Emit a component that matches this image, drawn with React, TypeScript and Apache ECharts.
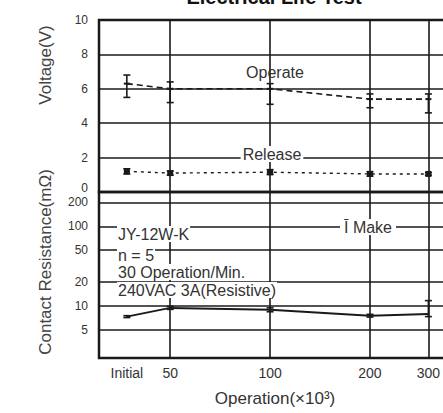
import React, { useEffect, useRef } from "react";
import * as echarts from "echarts";

// Operations (x 10^3); "Initial" is plotted just left of 50 on the log scale
const xLabels = ["Initial", "50", "100", "200", "300"];
const xPositions = [37, 50, 100, 200, 300];
const xGridValues = [50, 100, 200, 300];

// Voltage (V)
const operateMean = [6.3, 6.0, 6.0, 5.4, 5.4];
const operateMax = [6.8, 6.4, 6.3, 5.7, 5.7];
const operateMin = [5.5, 5.2, 5.1, 4.9, 4.6];
const releaseMean = [1.2, 1.1, 1.15, 1.05, 1.05];
const releaseMax = [1.35, 1.22, 1.3, 1.18, 1.13];
const releaseMin = [1.05, 0.98, 1.02, 0.92, 0.97];
const voltageTicks = [0, 2, 4, 6, 8, 10];

// Contact resistance (mΩ)
const makeMean = [7.3, 9.4, 8.9, 7.5, 7.9];
const makeMax = [7.5, 9.8, 9.4, 7.8, 11.6];
const makeMin = [7.1, 9.0, 8.4, 7.2, 7.3];
const resistanceTicks = [5, 10, 20, 50, 100, 200];

const noteLines = ["JY-12W-K", "n = 5", "30 Operation/Min.", "240VAC 3A(Resistive)"];

const lg = (v: number) => Math.log10(v);
const INK = "#1a1a1a";
const FONT = "Liberation Sans, Arial, sans-serif";

function errorBar(markerKind: "bar" | "square" | "none") {
  return (params: any, api: any) => {
    const x = api.value(0);
    const pLo = api.coord([x, api.value(1)]);
    const pHi = api.coord([x, api.value(2)]);
    const pMid = api.coord([x, api.value(3)]);
    const w = 3.5;
    const children: any[] = [
      { type: "line", shape: { x1: pLo[0], y1: pLo[1], x2: pHi[0], y2: pHi[1] }, style: { stroke: INK, lineWidth: 1.6 } },
      { type: "line", shape: { x1: pLo[0] - w, y1: pLo[1], x2: pLo[0] + w, y2: pLo[1] }, style: { stroke: INK, lineWidth: 1.6 } },
      { type: "line", shape: { x1: pHi[0] - w, y1: pHi[1], x2: pHi[0] + w, y2: pHi[1] }, style: { stroke: INK, lineWidth: 1.6 } },
    ];
    if (markerKind === "square") {
      children.push({ type: "rect", shape: { x: pMid[0] - 3, y: pMid[1] - 3, width: 6, height: 6 }, style: { fill: INK } });
    } else if (markerKind === "bar") {
      children.push({ type: "line", shape: { x1: pMid[0] - 3, y1: pMid[1], x2: pMid[0] + 3, y2: pMid[1] }, style: { stroke: INK, lineWidth: 2 } });
    }
    return { type: "group", children };
  };
}

export default function App() {
  const ref = useRef<HTMLDivElement>(null);
  useEffect(() => {
    if (!ref.current) return;
    const chart = echarts.init(ref.current, null, { renderer: "svg" });
    const xl = xPositions.map(lg);
    const labelFor = (v: number) => {
      let best = 0;
      xl.forEach((p, i) => {
        if (Math.abs(p - v) < Math.abs(xl[best] - v)) best = i;
      });
      return xLabels[best];
    };
    const xAxisBase = {
      type: "value",
      min: lg(30.5),
      max: lg(500),
      axisLine: { show: false },
      axisTick: { show: false, customValues: xGridValues.map(lg) },
      splitLine: { show: true, lineStyle: { color: INK, width: 1.6 } },
    };
    const toPairs = (ys: number[], f = (v: number) => v) => xl.map((x, i) => [x, f(ys[i])]);
    const toBars = (lo: number[], hi: number[], mid: number[], f = (v: number) => v) =>
      xl.map((x, i) => [x, f(lo[i]), f(hi[i]), f(mid[i])]);

    const textEl = (text: string, x: number, y: number, extra: any = {}) => ({
      type: "text",
      x,
      y,
      z: 100,
      style: { text, fill: "#333", font: `16px ${FONT}`, textAlign: "left", textVerticalAlign: "middle", ...extra },
    });
    const tickLabel = { color: "#333", fontSize: 12, fontFamily: FONT, margin: 11 };
    const vMin = voltageTicks[0];
    const vMax = voltageTicks[voltageTicks.length - 1];

    chart.setOption({
      animation: false,
      backgroundColor: "#fff",
      grid: [
        { left: 99, top: 20, width: 403, height: 172, show: true, borderColor: INK, borderWidth: 2.5, containLabel: false, outerBoundsMode: "none" },
        { left: 99, top: 192, width: 403, height: 166, show: true, borderColor: INK, borderWidth: 2.5, containLabel: false, outerBoundsMode: "none" },
      ],
      xAxis: [
        { ...xAxisBase, gridIndex: 0, axisLabel: { show: false } },
        {
          ...xAxisBase,
          gridIndex: 1,
          axisLabel: {
            show: true,
            customValues: xl,
            formatter: (v: number) => labelFor(v),
            color: "#333",
            fontSize: 14,
            fontFamily: FONT,
            margin: 8,
          },
        },
      ],
      yAxis: [
        {
          type: "value",
          gridIndex: 0,
          position: "left",
          min: vMin,
          max: vMax,
          interval: 2,
          axisLine: { show: false },
          axisTick: { show: false },
          axisLabel: { ...tickLabel, customValues: voltageTicks.slice(1) },
          splitLine: { show: true, lineStyle: { color: INK, width: 1.6 } },
        },
        {
          type: "value",
          gridIndex: 1,
          position: "left",
          min: lg(2.2),
          max: lg(270),
          axisLine: { show: false },
          axisTick: { show: false, customValues: resistanceTicks.map(lg) },
          axisLabel: {
            ...tickLabel,
            customValues: resistanceTicks.map(lg),
            formatter: (v: number) => String(Math.round(Math.pow(10, v))),
          },
          splitLine: { show: true, lineStyle: { color: INK, width: 1.6 } },
        },
        {
          // the voltage axis "0" label, nudged up so it clears the "200" below it
          type: "value",
          gridIndex: 0,
          position: "left",
          offset: 0,
          min: vMin,
          max: vMax,
          interval: 2,
          axisLine: { show: false },
          axisTick: { show: false },
          splitLine: { show: false },
          axisLabel: { ...tickLabel, customValues: [voltageTicks[0]], verticalAlign: "bottom", lineHeight: 8 },
        },
      ],
      series: [
        {
          name: "Operate",
          type: "line",
          xAxisIndex: 0,
          yAxisIndex: 0,
          data: toPairs(operateMean),
          symbol: "none",
          lineStyle: { color: INK, width: 1.6, type: [6, 4] },
          z: 5,
        },
        {
          type: "custom",
          xAxisIndex: 0,
          yAxisIndex: 0,
          data: toBars(operateMin, operateMax, operateMean),
          renderItem: errorBar("bar"),
          z: 6,
        },
        {
          name: "Release",
          type: "line",
          xAxisIndex: 0,
          yAxisIndex: 0,
          data: toPairs(releaseMean),
          symbol: "none",
          lineStyle: { color: INK, width: 1.4, type: [3, 4] },
          z: 5,
        },
        {
          type: "custom",
          xAxisIndex: 0,
          yAxisIndex: 0,
          data: toBars(releaseMin, releaseMax, releaseMean),
          renderItem: errorBar("square"),
          z: 6,
        },
        {
          name: "Make",
          type: "line",
          xAxisIndex: 1,
          yAxisIndex: 1,
          data: toPairs(makeMean, lg),
          symbol: "none",
          lineStyle: { color: INK, width: 2 },
          z: 5,
        },
        {
          type: "custom",
          xAxisIndex: 1,
          yAxisIndex: 1,
          data: toBars(makeMin, makeMax, makeMean, lg),
          renderItem: errorBar("none"),
          z: 6,
        },
      ],
      graphic: [
        {
          type: "text",
          x: 274,
          y: -13,
          style: { text: "Electrical Life Test", font: `bold 20px ${FONT}`, fill: "#111", textAlign: "center", textVerticalAlign: "top" },
        },
        {
          type: "text",
          x: 45,
          y: 65,
          rotation: Math.PI / 2,
          style: { text: "Voltage(V)", font: `17px ${FONT}`, fill: "#444", textAlign: "center", textVerticalAlign: "middle" },
        },
        {
          type: "text",
          x: 45,
          y: 262,
          rotation: Math.PI / 2,
          style: { text: "Contact Resistance(mΩ)", font: `17px ${FONT}`, fill: "#444", textAlign: "center", textVerticalAlign: "middle" },
        },
        {
          type: "text",
          x: 275,
          y: 398,
          style: { text: "Operation(×10³)", font: `17px ${FONT}`, fill: "#333", textAlign: "center", textVerticalAlign: "middle" },
        },
        textEl("Operate", 275, 72, { textAlign: "center" }),
        textEl("Release", 272, 154, { textAlign: "center", backgroundColor: "#fff", padding: [0, 2] }),
        textEl("Ī Make", 340, 227, { backgroundColor: "#fff", padding: [0, 4] }),
        textEl(noteLines[0], 117, 234, { backgroundColor: "#fff", padding: [0, 1] }),
        textEl(noteLines[1], 117, 255, { backgroundColor: "#fff", padding: [0, 1] }),
        textEl(noteLines[2], 117, 272, { backgroundColor: "#fff", padding: [0, 1] }),
        textEl(noteLines[3], 117, 290, { backgroundColor: "#fff", padding: [0, 1] }),
      ],
    });
    return () => chart.dispose();
  }, []);
  return <div ref={ref} style={{ position: "fixed", left: 0, top: 0, width: 443, height: 413 }} />;
}
